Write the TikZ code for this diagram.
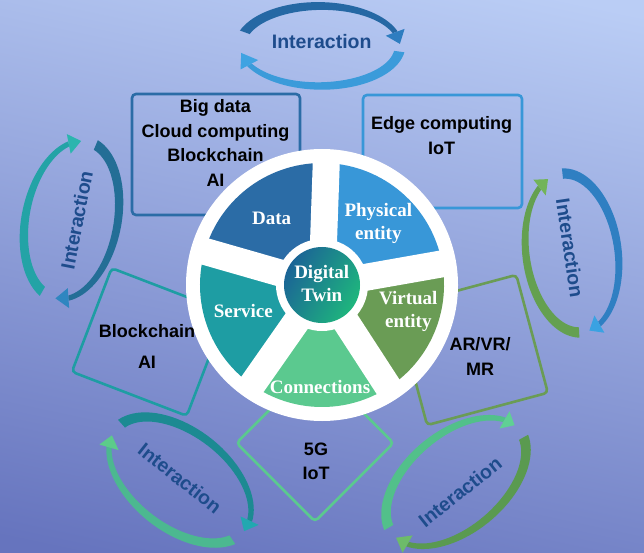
\documentclass[tikz,border=0pt]{standalone}
\usepackage{fontspec}
\setmainfont{Liberation Serif}
\newfontfamily\arialf{Liberation Sans}
\definecolor{bgTop}{RGB}{186,205,245}
\definecolor{bgMid}{RGB}{146,166,225}
\definecolor{bgBot}{RGB}{102,116,190}
\definecolor{cData}{RGB}{43,108,166}
\definecolor{cPhys}{RGB}{56,151,216}
\definecolor{cVirt}{RGB}{106,156,85}
\definecolor{cConn}{RGB}{91,201,143}
\definecolor{cServ}{RGB}{30,157,163}
\definecolor{cTwinA}{RGB}{27,100,150}
\definecolor{cTwinB}{RGB}{30,182,125}
\definecolor{cInter}{RGB}{30,76,140}
% interaction arc colours
\definecolor{tA}{RGB}{37,104,164}\definecolor{tAh}{RGB}{46,125,192}
\definecolor{tB}{RGB}{59,155,218}\definecolor{tBh}{RGB}{63,163,226}
\definecolor{lA}{RGB}{35,163,166}\definecolor{lAh}{RGB}{43,181,174}
\definecolor{lB}{RGB}{35,110,150}\definecolor{lBh}{RGB}{47,134,192}
\definecolor{rA}{RGB}{100,160,80}\definecolor{rAh}{RGB}{114,180,88}
\definecolor{rB}{RGB}{47,127,194}\definecolor{rBh}{RGB}{58,162,226}
\definecolor{blA}{RGB}{28,138,146}\definecolor{blAh}{RGB}{34,168,176}
\definecolor{blB}{RGB}{76,184,144}\definecolor{blBh}{RGB}{92,203,138}
\definecolor{brA}{RGB}{82,192,138}\definecolor{brAh}{RGB}{96,208,148}
\definecolor{brB}{RGB}{90,154,80}\definecolor{brBh}{RGB}{109,187,106}
% curved tapered arrow on ellipse (a,b): tail angle, head-base angle, tip angle
\newcommand{\iarc}[7]{%
  \fill[#6] plot[domain=#3:#4, samples=40]
    ({(#1+(5.2-2.6*(\x-(#3))/((#4)-(#3))))*cos(\x)},{(#2+(5.2-2.6*(\x-(#3))/((#4)-(#3))))*sin(\x)})
    -- plot[domain=#4:#3, samples=40]
    ({(#1-(5.2-2.6*(\x-(#3))/((#4)-(#3))))*cos(\x)},{(#2-(5.2-2.6*(\x-(#3))/((#4)-(#3))))*sin(\x)})
    -- cycle;
  \fill[#7] ({(#1+10)*cos(#4)},{(#2+10)*sin(#4)}) -- ({#1*cos(#5)},{#2*sin(#5)})
    -- ({(#1-10)*cos(#4)},{(#2-10)*sin(#4)}) -- cycle;
}
\tikzset{
  boxframe/.style={draw=#1, line width=2.6pt, rounded corners=4pt, inner sep=0pt},
  boxtext/.style={font=\arialf\bfseries\fontsize{18}{#1}\selectfont, align=center, text=black, inner sep=0pt},
  wheeltext/.style={font=\bfseries\fontsize{19}{23}\selectfont, align=center, text=white, inner sep=0pt},
  intertext/.style={font=\arialf\bfseries\fontsize{19.5}{20}\selectfont, text=cInter, inner sep=0pt},
}
\begin{document}
\begin{tikzpicture}[x=1pt,y=1pt]
\useasboundingbox (0,0) rectangle (644,552);
\shade[top color=bgTop, middle color=bgMid, bottom color=bgBot, shading angle=-12] (-40,-40) rectangle (684,592);

% outer boxes
\node[boxframe=cData, minimum width=168pt, minimum height=121pt] (bd) at (216,397.5) {};
\node[boxframe=cPhys, minimum width=159pt, minimum height=113pt] (ec) at (442.5,400.5) {};
\node[boxframe=cServ, minimum width=123pt, minimum height=111pt, rotate=-21] (bc) at (149.2,210) {};
\node[boxframe=cVirt, minimum width=125pt, minimum height=122pt, rotate=15] (ar) at (471.7,202) {};
\node[boxframe=cConn, minimum width=111pt, minimum height=111pt, rotate=45] (fg) at (315,109) {};

% interaction arrows
\begin{scope}[shift={(320,506)}]
  \iarc{80}{40}{160}{20}{3}{tA}{tAh}
  \iarc{80}{40}{-8}{-152}{-170}{tB}{tBh}
\end{scope}
\begin{scope}[shift={(71.5,332)}, rotate=79]
  \iarc{80}{46}{161}{22}{7}{lA}{lAh}
  \iarc{80}{46}{-12}{-165}{-181}{lB}{lBh}
\end{scope}
\begin{scope}[shift={(572,299)}, rotate=98]
  \iarc{80}{46}{175}{30}{17}{rA}{rAh}
  \iarc{80}{46}{-2}{-158}{-172}{rB}{rBh}
\end{scope}
\begin{scope}[shift={(180,72)}, rotate=-38]
  \iarc{82}{48}{170}{13}{-1}{blA}{blAh}
  \iarc{82}{48}{-18}{-158}{-172}{blB}{blBh}
\end{scope}
\begin{scope}[shift={(456,70)}, rotate=40]
  \iarc{82}{48}{170}{20}{7}{brA}{brAh}
  \iarc{82}{48}{-11}{-160}{-175}{brB}{brBh}
\end{scope}

% wheel
\coordinate (C) at (322,267);
\fill[white] (C) circle (136);
\fill[cData] (C) -- ++(88:122) arc[start angle=88, end angle=164, radius=122] -- cycle;
\fill[cServ] (C) -- ++(164:122) arc[start angle=164, end angle=235, radius=122] -- cycle;
\fill[cConn] (C) -- ++(235:122) arc[start angle=235, end angle=303, radius=122] -- cycle;
\fill[cVirt] (C) -- ++(303:122) arc[start angle=303, end angle=370, radius=122] -- cycle;
\fill[cPhys] (C) -- ++(10:122) arc[start angle=10, end angle=88, radius=122] -- cycle;
\foreach \g in {88,164,235,303,10} \draw[white, line width=27pt] (C) -- ++(\g:130);
\fill[white] (C) circle (46);
\shade[left color=cTwinA, right color=cTwinB, shading angle=60] (C) circle (38);

% wheel labels
\node[wheeltext] (dt) at (321.7,268.7) {Digital\\Twin};
\node[wheeltext] (data) at (271.7,333.7) {Data};
\node[wheeltext] (phys) at (378.3,329) {Physical\\entity};
\node[wheeltext] (virt) at (408.3,240.3) {Virtual\\entity};
\node[wheeltext] (serv) at (243.3,241.3) {Service};
\node[wheeltext] (conn) at (320,165.3) {Connections};

% box texts
\node[boxtext=24.7] (bdT) at (215.5,409) {Big data\\Cloud computing\\Blockchain\\AI};
\node[boxtext=25] (ecT) at (441.7,416.5) {Edge computing\\IoT};
\node[boxtext=30.7] (bcT) at (147,205.7) {Blockchain\\AI};
\node[boxtext=25] (arT) at (480,196) {AR/VR/\\MR};
\node[boxtext=24] (fgT) at (316,91) {5G\\IoT};

% interaction labels
\node[intertext] (i1) at (321.7,510.3) {Interaction};
\node[intertext, rotate=79] (i2) at (76.7,332) {Interaction};
\node[intertext, rotate=-81.6] (i3) at (570,304) {Interaction};
\node[intertext, rotate=-38.4] (i4) at (180,73.7) {Interaction};
\node[intertext, rotate=38.4] (i5) at (460,60.3) {Interaction};
\end{tikzpicture}
\end{document}
